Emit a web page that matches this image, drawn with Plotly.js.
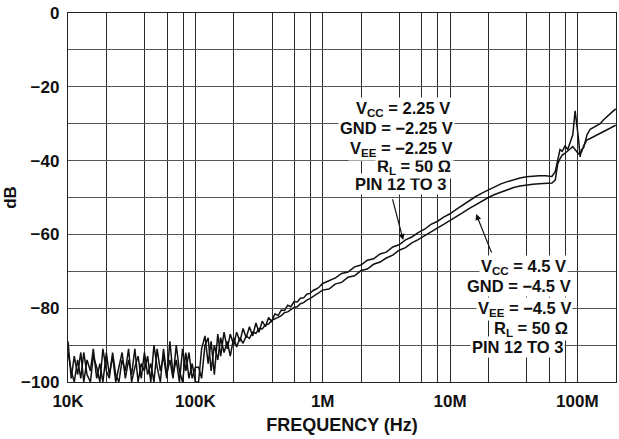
<!DOCTYPE html>
<html>
<head>
<meta charset="utf-8">
<script src="https://cdn.plot.ly/plotly-3.0.1.min.js"></script>
<style>html,body{margin:0;padding:0;background:#fff;}#chart{width:619px;height:439px;}</style>
</head>
<body>
<div id="chart"></div>
<script>
// Frequency samples in kHz
const freqK = [10,10.6,11.2,11.9,12.6,13.3,14.1,15,15.8,16.8,17.8,18.8,20,21.1,22.4,23.7,25.1,26.6,28.2,29.9,31.6,33.5,35.5,37.6,39.8,42.2,44.7,47.3,50.1,53.1,56.2,59.6,63.1,66.8,70.8,75,79.4,84.1,89.1,94.4,100,
106,112,119,126,133,141,150,158,168,178,188,200,211,224,237,251,266,282,299,316,335,355,376,398,422,447,473,501,531,562,596,631,668,708,750,794,841,891,944,1000,
1120,1260,1410,1580,1780,2000,2240,2510,2820,3160,3550,3980,4470,5010,5620,6310,7080,7940,8910,10000,
11200,12600,14100,15800,17800,20000,22400,25100,28200,31600,35500,39800,44700,50100,56200,63100,
67000,70000,73000,76000,80000,84000,88000,92000,96000,100000,102000,105000,108000,112000,119000,126000,134000,142000,151000,160000,171000,185000,200000];

// VCC = 2.25 V curve (dB)
const dB_225 = [-89,-99,-93,-98,-92,-100,-94,-97,-91,-99,-95,-100,-92,-98,-93,-100,-96,-92,-99,-94,-98,-91,-100,-95,-97,-93,-100,-90,-96,-100,-91,-98,-94,-99,-90,-97,-100,-92,-99,-95,-100,
-100,-91,-87.5,-95,-89,-98,-87,-93,-86.5,-91,-87,-90,-86.5,-89,-85.5,-88,-85,-87.5,-84,-86.5,-83.5,-85,-82.5,-83.6,-81.5,-82,-80.5,-80.6,-79.2,-79.6,-78.2,-78.3,-77.3,-77.2,-76.2,-76,-75.2,-74.8,-74.2,-73.3,
-72.6,-71.8,-70.6,-70.2,-68.8,-68.3,-67,-66.6,-65.3,-64.8,-63.4,-62.8,-61.5,-60.7,-59.5,-58.6,-57.3,-56.5,-55.3,-54.4,
-53.2,-52,-51,-49.8,-48.8,-47.9,-47,-46.3,-45.7,-45.1,-44.7,-44.4,-44.2,-44.1,-44.1,-44.3,
-43,-40,-37,-37.5,-36,-37,-35,-33,-26.5,-31,-34,-39,-37,-36.5,-33,-31.5,-31,-30.5,-30,-29,-28,-27,-26];

// VCC = 4.5 V curve (dB)
const dB_45 = [-92,-97,-100,-94,-99,-92,-98,-100,-93,-96,-100,-91,-97,-99,-92,-98,-100,-94,-97,-91,-100,-96,-93,-99,-92,-98,-95,-100,-91,-97,-93,-99,-89,-98,-94,-100,-91,-97,-92,-99,-96,
-96,-99,-90,-88,-97,-90,-94,-88,-92,-89,-93,-88,-90.5,-88,-89.5,-87.5,-88.2,-86.5,-86.8,-85.5,-85.6,-84.5,-84.3,-83.3,-83,-82.5,-82,-81.2,-81,-80.3,-79.8,-79.6,-78.8,-78.5,-77.8,-77.4,-76.8,-76.2,-75.8,-75.1,
-74.8,-73.4,-73,-71.6,-71.2,-69.8,-69.4,-68.1,-67.5,-66.4,-65.6,-64.3,-63.6,-62.3,-61.4,-60.3,-59.3,-58.3,-57.3,-56.3,
-55.2,-54.1,-53,-52,-51,-50,-49.2,-48.5,-47.8,-47.3,-46.9,-46.6,-46.4,-46.3,-46.3,-46.1,
-45.3,-41,-39.5,-38.5,-38,-37.5,-36.8,-36.2,-37,-38,-38.2,-37.8,-37.6,-36,-34.4,-34,-33.5,-33,-32.6,-32.2,-31.7,-31,-30.4];

// Axis tick labels
const xDecadesK = [10,100,1000,10000,100000];
const xTickLabels = ['10K','100K','1M','10M','100M'];
const yTickVals = [0,-10,-20,-30,-40,-50,-60,-70,-80,-90,-100];
const yTickLabels = ['0','','\u221220','','\u221240','','\u221260','','\u221280','','\u2212100'];

const label225 = ['V<sub>CC</sub> = 2.25 V','GND = \u22122.25 V','V<sub>EE</sub> = \u22122.25 V','R<sub>L</sub> = 50 \u03A9','PIN 12 TO 3'];
const label45 = ['V<sub>CC</sub> = 4.5 V','GND = \u22124.5 V','V<sub>EE</sub> = \u22124.5 V','R<sub>L</sub> = 50 \u03A9','PIN 12 TO 3'];

// grid positions: 1,2,4,6,8 per decade
const xTickVals = [], xTickText = [];
xDecadesK.forEach((d, i) => {
  [1,2,4,6,8].forEach(m => {
    if (d*m <= 200000) { xTickVals.push(d*m); xTickText.push(m === 1 ? xTickLabels[i] : ''); }
  });
});

const FONT = 'Liberation Sans, Arial, Helvetica, sans-serif';
const lineStyle = {color:'#111', width:1.5};

// plot area in pixels (for placing the text labels)
const PL = 68, PR = 616, PT = 13, PB = 382;
const px = x => (x - PL) / (PR - PL);
const py = y => (PB - y) / (PB - PT);

// right edge x and vertical centre y of each label line (pixels)
const pos225 = [[452,109],[455,128],[455,149],[453,167],[448,184]];
const pos45  = [[568,267],[573,286],[573,309],[570,329],[565,347]];

const annotations = [];
[[label225,pos225],[label45,pos45]].forEach(([lab,pos]) => {
  // draw bottom line first so subscripts are not hidden by the next line's background
  for (let i = lab.length - 1; i >= 0; i--) {
    annotations.push({xref:'paper', yref:'paper', x:px(pos[i][0]), y:py(pos[i][1]),
      xanchor:'right', yanchor:'middle', align:'right', text:lab[i], showarrow:false,
      bgcolor:'#fff', borderpad:1, font:{family:FONT, size:16.5, color:'#111', weight:700}});
  }
});
annotations.push({xref:'x', yref:'y', x:3.632, y:-61.5, text:'', showarrow:true, arrowhead:2, arrowsize:1, arrowwidth:1.2, arrowcolor:'#111', ax:-11, ay:-42});
annotations.push({xref:'x', yref:'y', x:4.205, y:-54.5, text:'', showarrow:true, arrowhead:2, arrowsize:1, arrowwidth:1.2, arrowcolor:'#111', ax:16, ay:40});

const traces = [
  {x: freqK, y: dB_225, type:'scatter', mode:'lines', line: lineStyle, hoverinfo:'skip', name:'2.25 V'},
  {x: freqK, y: dB_45, type:'scatter', mode:'lines', line: lineStyle, hoverinfo:'skip', name:'4.5 V'}
];

const layout = {
  width: 619, height: 439,
  margin: {l:68, r:3, t:13, b:57},
  paper_bgcolor:'#fff', plot_bgcolor:'#fff',
  showlegend:false,
  font:{family:FONT, color:'#111'},
  xaxis:{
    type:'log', range:[1, Math.log10(201000)],
    tickvals: xTickVals, ticktext: xTickText,
    showgrid:true, gridcolor:'#2a2a2a', gridwidth:1,
    showline:true, mirror:true, linecolor:'#222', linewidth:1.2,
    ticks:'', zeroline:false,
    tickfont:{family:FONT, size:17, color:'#111', weight:700},
    ticklabelstandoff: 3,
    title:{text:'FREQUENCY (Hz)', font:{family:FONT, size:18, color:'#111', weight:700}, standoff:8}
  },
  yaxis:{
    range:[-100, 0],
    tickvals: yTickVals, ticktext: yTickLabels,
    showgrid:true, gridcolor:'#555', gridwidth:1,
    showline:true, mirror:true, linecolor:'#222', linewidth:1.2,
    ticks:'', zeroline:false,
    tickfont:{family:FONT, size:17, color:'#111', weight:700},
    ticklabelstandoff: 4,
    title:{text:'dB', font:{family:FONT, size:17, color:'#111', weight:700}, standoff:0}
  },
  annotations: annotations
};

Plotly.newPlot('chart', traces, layout, {displayModeBar:false, staticPlot:true});
</script>
</body>
</html>
